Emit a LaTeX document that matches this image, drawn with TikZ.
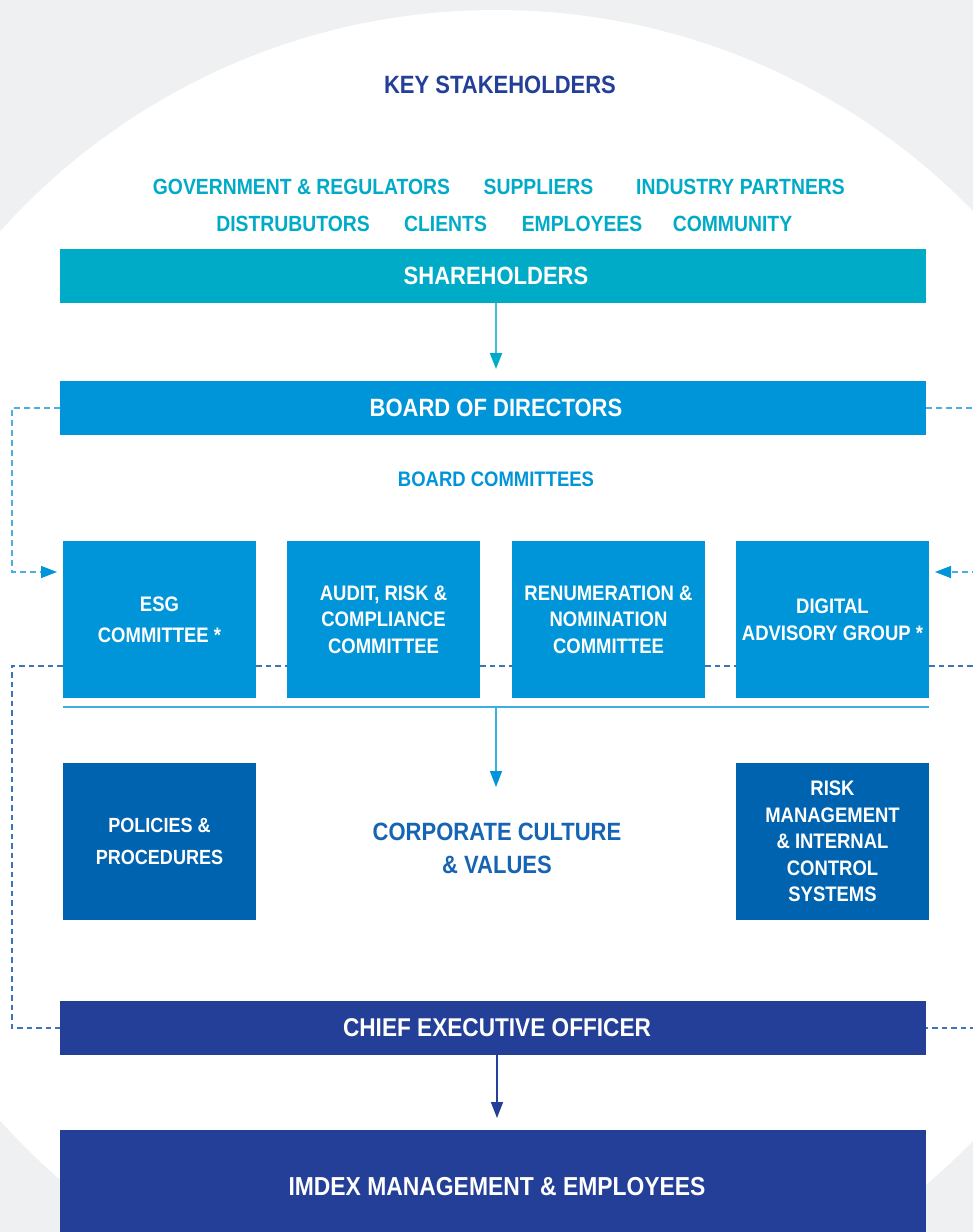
\documentclass[tikz,border=0pt]{standalone}
\usepackage{fontspec}
\setmainfont[FakeStretch=0.88]{Liberation Sans}
\usetikzlibrary{arrows.meta}
\definecolor{bggrey}{HTML}{EFF0F2}
\definecolor{teal}{HTML}{00ABC7}
\definecolor{tealline}{HTML}{45BCD6}
\definecolor{midblue}{HTML}{0095D9}
\definecolor{darkblue}{HTML}{0063B0}
\definecolor{navy}{HTML}{233F97}
\definecolor{culture}{HTML}{1565B4}
\definecolor{dashlight}{HTML}{4AB0E4}
\definecolor{dashdark}{HTML}{3B74B8}
\definecolor{hline}{HTML}{3AAEE6}
\newcommand\fsz[2]{\bfseries\fontsize{#1}{#2}\selectfont}
\newcommand\shft{\hspace*{6pt}}
\tikzset{
  lbl/.style={inner sep=0pt, align=center},
  bar/.style={rectangle, inner sep=0pt, minimum width=866pt, minimum height=54pt, text=white, font=\fsz{25}{30}},
  cbox/.style={rectangle, inner sep=0pt, minimum width=193pt, minimum height=157pt, fill=midblue, text=white, align=center, font=\fsz{21}{26.5}},
  dbox/.style={cbox, fill=darkblue},
  dashL/.style={draw=dashlight, line width=1.3pt, dash pattern=on 6pt off 4pt},
  dashD/.style={draw=dashdark, line width=1.2pt, dash pattern=on 5.5pt off 4pt},
  arrtip/.style={-{Triangle[length=16pt,width=12pt]}}
}
\begin{document}
\begin{tikzpicture}[x=1pt,y=-1pt]
\useasboundingbox (0,0) rectangle (973,1232);
\clip (0,0) rectangle (973,1232);
\fill[bggrey] (0,0) rectangle (973,1232);
\fill[white] (496,676) circle[radius=666pt];

% stakeholders
\node[lbl, text=navy, font=\fsz{25}{30}] (key) at (500,85) {KEY STAKEHOLDERS};
\node[lbl, text=teal, font=\fsz{22}{26}] (gov) at (301.5,187) {GOVERNMENT \& REGULATORS};
\node[lbl, text=teal, font=\fsz{22}{26}] (sup) at (538.5,187) {SUPPLIERS};
\node[lbl, text=teal, font=\fsz{22}{26}] (ind) at (740.5,187) {INDUSTRY PARTNERS};
\node[lbl, text=teal, font=\fsz{22}{26}] (dis) at (293,224) {DISTRUBUTORS};
\node[lbl, text=teal, font=\fsz{22}{26}] (cli) at (445.5,224) {CLIENTS};
\node[lbl, text=teal, font=\fsz{22}{26}] (emp) at (582,224) {EMPLOYEES};
\node[lbl, text=teal, font=\fsz{22}{26}] (com) at (732.5,224) {COMMUNITY};

% bars
\node[bar, fill=teal] (share) at (493,276) {\shft SHAREHOLDERS};
\node[bar, fill=midblue] (board) at (493,408) {\shft BOARD OF DIRECTORS};
\node[lbl, text=midblue, font=\fsz{21}{25}] (bc) at (496,479) {BOARD COMMITTEES};

% committees
\node[cbox, font=\fsz{21}{31}] (esg) at (159.5,619.5) {ESG\\COMMITTEE *};
\node[cbox] (aud) at (383.5,619.5) {AUDIT, RISK \&\\COMPLIANCE\\COMMITTEE};
\node[cbox] (ren) at (608.5,619.5) {RENUMERATION \&\\NOMINATION\\COMMITTEE};
\node[cbox, font=\fsz{21}{27}] (dig) at (832.5,619.5) {DIGITAL\\ADVISORY GROUP *};

% lower boxes
\node[dbox, font=\fsz{20.5}{32}] (pol) at (159.5,841.5) {POLICIES \&\\PROCEDURES};
\node[dbox] (risk) at (832.5,841.5) {RISK\\MANAGEMENT\\\& INTERNAL\\CONTROL\\SYSTEMS};
\node[lbl, text=culture, font=\fsz{25}{33}] (cult) at (497,848) {CORPORATE CULTURE\\\& VALUES};

\node[bar, fill=navy, font=\fsz{25.7}{30}] (ceo) at (493,1028) {\shft\hspace*{2pt}CHIEF EXECUTIVE OFFICER};
\node[bar, fill=navy, minimum height=114pt, font=\fsz{26}{30}] (imdex) at (493,1187) {\shft\hspace*{2pt}IMDEX MANAGEMENT \& EMPLOYEES};

% solid connectors
\coordinate (t1) at (496,369);
\draw[tealline, line width=2pt, -{Triangle[length=16pt,width=12pt,color=teal]}] (t1 |- share.south) -- (t1);

\coordinate (hl) at (63,707);
\coordinate (hr) at (929,707);
\coordinate (hm) at (496,707);
\coordinate (t2) at (496,787);
\draw[hline, line width=1.4pt] (hl) -- (hr);
\draw[hline, line width=1.4pt, -{Triangle[length=16pt,width=12pt,color=midblue]}] (hm) -- (t2);

\coordinate (t3) at (497,1118);
\draw[navy, line width=1.6pt, arrtip] (t3 |- ceo.south) -- (t3);

% dashed light loops (board -> ESG / Digital)
\coordinate (a1) at (57,572);
\coordinate (a2) at (935,572);
\draw[dashL, -{Triangle[length=16pt,width=12pt,color=midblue]}] (board.west) -- (12,408) |- (a1);
\draw[dashL, -{Triangle[length=16pt,width=12pt,color=midblue]}] (board.east) -- (990,408) |- (a2);

% dashed dark loop (committees -> CEO)
\draw[dashD] (esg.west |- 0,666) -- (12,666) |- (ceo.west);
\draw[dashD] (esg.east |- 0,666) -- (aud.west |- 0,666);
\draw[dashD] (aud.east |- 0,666) -- (ren.west |- 0,666);
\draw[dashD] (ren.east |- 0,666) -- (dig.west |- 0,666);
\draw[dashD] (dig.east |- 0,666) -- (990,666) |- (ceo.east);
\end{tikzpicture}
\end{document}
